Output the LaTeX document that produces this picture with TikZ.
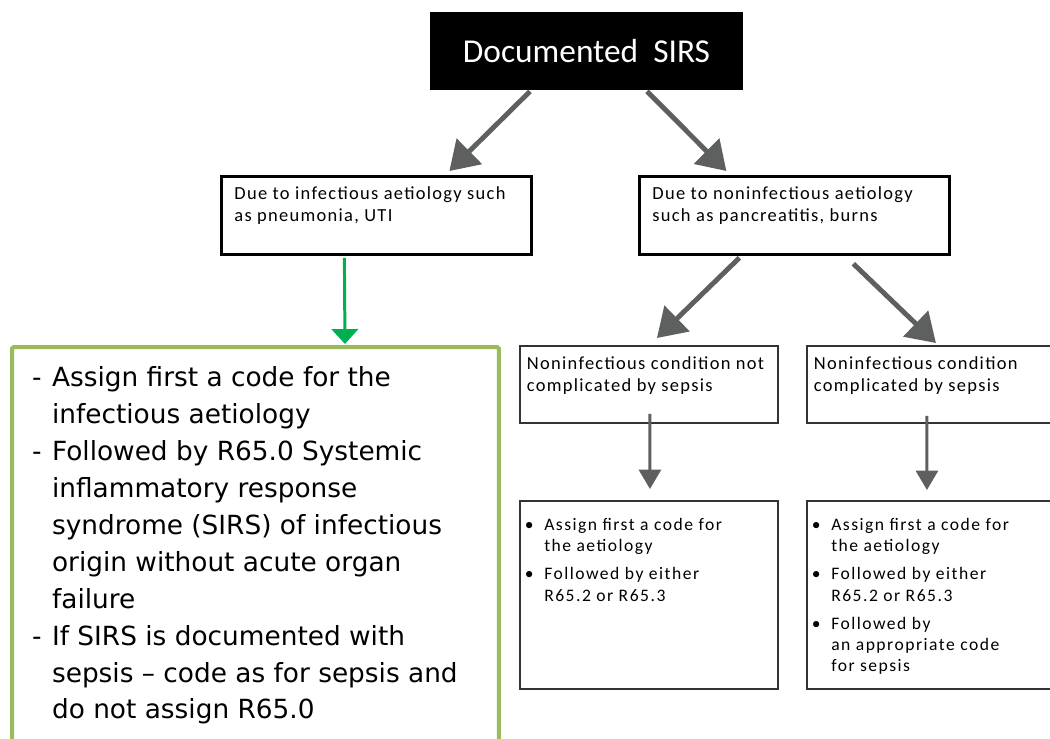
\documentclass[tikz,border=0pt]{standalone}
\usepackage{fontspec}
\setmainfont{Carlito}
\newfontfamily\verdanafont{DejaVu Sans}
\newfontfamily\boxfont[LetterSpace=7]{Carlito}
\newfontfamily\codefont[LetterSpace=8.5]{Carlito}
\usetikzlibrary{arrows.meta,positioning,calc}
\definecolor{ARROWGRAY}{HTML}{5E6060}
\definecolor{ARROWGREEN}{HTML}{00B050}
\definecolor{BOXGREEN}{HTML}{9BBB59}

\newcommand{\topText}[3]{\parbox[t][#1][t]{#2}{#3}}

\begin{document}
\begin{tikzpicture}[x=0.02cm,y=-0.02cm]
\tikzstyle{titleBox}=[fill=black,text=white,minimum width=6.26cm,minimum height=1.56cm,font=\fontsize{19}{23}\selectfont]
\tikzstyle{causeBox}=[draw=black,line width=1.6pt,anchor=north west,inner xsep=0.26cm,inner ysep=0.2cm,font=\boxfont\fontsize{10.5}{12.5}\selectfont]
\tikzstyle{condBox}=[draw=black!80,line width=1.1pt,anchor=north west,inner xsep=0.14cm,inner ysep=0.22cm,font=\boxfont\fontsize{10.5}{12.5}\selectfont]
\tikzstyle{codeBox}=[draw=black!80,line width=1.1pt,anchor=north west,inner xsep=0.1cm,inner ysep=0.3cm,font=\codefont\fontsize{10}{12}\selectfont]
\tikzstyle{greenBox}=[draw=BOXGREEN,line width=2.3pt,rounded corners=1pt,anchor=north west,inner xsep=0.4cm,inner ysep=0.28cm,font=\verdanafont\fontsize{15}{21}\selectfont]
\tikzstyle{bigArrow}=[draw=ARROWGRAY,line width=2.8pt,-{Triangle[length=16pt,width=20pt]}]
\tikzstyle{downArrow}=[draw=ARROWGRAY,line width=1.7pt,-{Triangle[length=11pt,width=12.5pt]}]
\tikzstyle{greenArrow}=[draw=ARROWGREEN,line width=1.7pt,-{Triangle[length=8.5pt,width=15pt]}]

\useasboundingbox (0,0) rectangle (1050,738);
\clip (0,0) rectangle (1050,738);

% boxes
\node[titleBox] (docSIRS) at (586.5,51) {Documented\ \ SIRS};
\node[causeBox] (infCause) at (220,175)
  {\topText{1.16cm}{5.68cm}{Due to infectious aetiology such\\as pneumonia, UTI}};
\node[causeBox] (nonInfCause) at (638,175)
  {\topText{1.16cm}{5.68cm}{Due to noninfectious aetiology\\such as pancreatitis, burns}};
\node[condBox] (nonInfNoSepsis) at (519,345)
  {\topText{1.1cm}{4.88cm}{Noninfectious condition not\\complicated by sepsis}};
\node[condBox] (nonInfSepsis) at (806,345)
  {\topText{1.1cm}{4.92cm}{Noninfectious condition\\complicated by sepsis}};
\node[codeBox] (codeNoSepsis) at (519,500)
  {\topText{3.16cm}{4.96cm}{%
   \begin{tabular}{@{}l@{\hspace{6pt}}l@{}}
   \textbullet & Assign first a code for\\
               & the aetiology\\[4pt]
   \textbullet & Followed by either\\
               & R65.2 or R65.3
   \end{tabular}}};
\node[codeBox] (codeSepsis) at (806,500)
  {\topText{3.16cm}{5.0cm}{%
   \begin{tabular}{@{}l@{\hspace{6pt}}l@{}}
   \textbullet & Assign first a code for\\
               & the aetiology\\[4pt]
   \textbullet & Followed by either\\
               & R65.2 or R65.3\\[4pt]
   \textbullet & Followed by\\
               & an appropriate code\\
               & for sepsis
   \end{tabular}}};
\node[greenBox] (infCode) at (10,345)
  {\topText{8.3cm}{8.94cm}{%
   \begin{tabular}{@{}l@{\hspace{6pt}}l@{}}
   - & Assign first a code for the\\
     & infectious aetiology\\
   - & Followed by R65.0 Systemic\\
     & inflammatory response\\
     & syndrome (SIRS) of infectious\\
     & origin without acute organ\\
     & failure\\
   - & If SIRS is documented with\\
     & sepsis \textendash{} code as for sepsis and\\
     & do not assign R65.0
   \end{tabular}}};

% arrows
\draw[bigArrow] ($(docSIRS.south)+(-56.5,1)$) -- ($(infCause.north)+(73,-4)$);
\draw[bigArrow] ($(docSIRS.south)+(60.5,1)$) -- ($(nonInfCause.north)+(-68,-4)$);
\draw[bigArrow] ($(nonInfCause.south)+(-55,2)$) -- ($(nonInfNoSepsis.north)+(8,-7)$);
\draw[bigArrow] ($(nonInfCause.south)+(59,8)$) -- ($(nonInfSepsis.north)+(-1,-2)$);
\draw[downArrow] ($(nonInfNoSepsis.south)+(1,-10)$) -- ($(codeNoSepsis.north)+(1,-11)$);
\draw[downArrow] ($(nonInfSepsis.south)+(-10,-8)$) -- ($(codeSepsis.north)+(-10,-10)$);
\draw[greenArrow] ($(infCause.south)+(-32,2)$) -- ($(infCode.north)+(89.5,-1)$);
\end{tikzpicture}
\end{document}
